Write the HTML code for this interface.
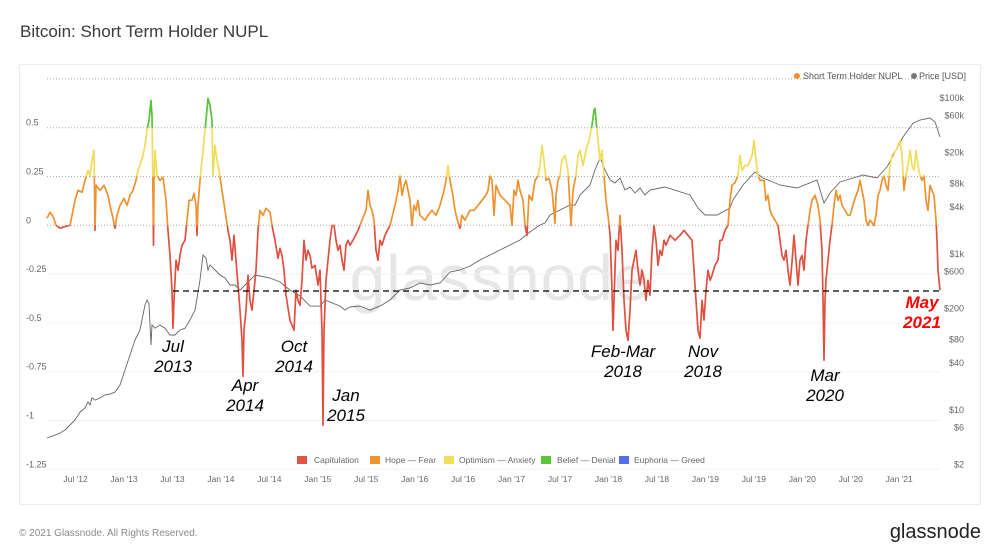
<!DOCTYPE html>
<html><head><meta charset="utf-8">
<style>
html,body{margin:0;padding:0;background:#fff;width:1000px;height:557px;overflow:hidden;font-family:"Liberation Sans",sans-serif}
svg text{font-family:"Liberation Sans",sans-serif}
</style></head>
<body>
<svg id="chart" width="1000" height="557" viewBox="0 0 1000 557" xmlns="http://www.w3.org/2000/svg">
<rect x="0" y="0" width="1000" height="557" fill="#fff"/>
<text x="20" y="37" font-size="17" fill="#3a3a3a">Bitcoin: Short Term Holder NUPL</text>
<rect x="19.5" y="64.5" width="961" height="440" fill="#fff" stroke="#ececec"/>
<text x="500" y="300" font-size="64" fill="#e6e6e6" text-anchor="middle" letter-spacing="1">glassnode</text>
<g id="grid"></g>
<g id="yaxis"></g>
<g id="y2axis"></g>
<g id="xaxis"></g>
<defs id="defs"></defs>
<g id="price"></g>
<g id="nupl"></g>
<line x1="173" y1="291" x2="940" y2="291" stroke="#000" stroke-width="1.2" stroke-dasharray="6,4"/>
<g font-size="17" font-style="italic" fill="#000" text-anchor="middle">
<text x="173" y="352"><tspan x="173">Jul</tspan><tspan x="173" dy="20">2013</tspan></text>
<text x="245" y="391"><tspan x="245">Apr</tspan><tspan x="245" dy="20">2014</tspan></text>
<text x="294" y="352"><tspan x="294">Oct</tspan><tspan x="294" dy="20">2014</tspan></text>
<text x="346" y="401"><tspan x="346">Jan</tspan><tspan x="346" dy="20">2015</tspan></text>
<text x="623" y="357"><tspan x="623">Feb-Mar</tspan><tspan x="623" dy="20">2018</tspan></text>
<text x="703" y="357"><tspan x="703">Nov</tspan><tspan x="703" dy="20">2018</tspan></text>
<text x="825" y="381"><tspan x="825">Mar</tspan><tspan x="825" dy="20">2020</tspan></text>
<text x="922" y="308" fill="#f00" font-weight="bold"><tspan x="922">May</tspan><tspan x="922" dy="20">2021</tspan></text>
</g>
<g font-size="9" fill="#555">
<circle cx="797" cy="76" r="3" fill="#f0922e"/>
<text x="803" y="79">Short Term Holder NUPL</text>
<circle cx="914" cy="76" r="3" fill="#777"/>
<text x="919" y="79">Price [USD]</text>
</g>
<g font-size="8.5" fill="#666">
<rect x="297" y="456" width="10" height="8" fill="#e05545"/>
<text x="314" y="463">Capitulation</text>
<rect x="370" y="456" width="10" height="8" fill="#f0922e"/>
<text x="385" y="463">Hope — Fear</text>
<rect x="444" y="456" width="10" height="8" fill="#f2df5c"/>
<text x="459" y="463">Optimism — Anxiety</text>
<rect x="541" y="456" width="10" height="8" fill="#5cc63a"/>
<text x="557" y="463">Belief — Denial</text>
<rect x="619" y="456" width="10" height="8" fill="#4f6ef0"/>
<text x="634" y="463">Euphoria — Greed</text>
</g>
<text x="19" y="536" font-size="10" fill="#8a8a8a">© 2021 Glassnode. All Rights Reserved.</text>
<text x="981" y="538" font-size="20" fill="#222" text-anchor="end">glassnode</text>
</svg>
<script>
const nuplDates=[2012.205,2012.236,2012.267,2012.298,2012.340,2012.401,2012.443,2012.463,2012.494,2012.525,2012.567,2012.598,2012.628,2012.649,2012.670,2012.690,2012.701,2012.711,2012.752,2012.794,2012.835,2012.856,2012.886,2012.907,2012.928,2012.959,2013.000,2013.031,2013.062,2013.093,2013.124,2013.144,2013.165,2013.196,2013.217,2013.237,2013.258,2013.268,2013.279,2013.289,2013.299,2013.304,2013.310,2013.320,2013.341,2013.372,2013.402,2013.433,2013.454,2013.475,2013.495,2013.506,2013.516,2013.537,2013.557,2013.578,2013.599,2013.630,2013.650,2013.671,2013.702,2013.722,2013.743,2013.753,2013.764,2013.784,2013.805,2013.826,2013.846,2013.867,2013.888,2013.908,2013.918,2013.939,2013.960,2013.980,2014.011,2014.042,2014.073,2014.094,2014.115,2014.135,2014.156,2014.176,2014.197,2014.218,2014.228,2014.238,2014.259,2014.280,2014.300,2014.321,2014.342,2014.362,2014.383,2014.404,2014.434,2014.465,2014.507,2014.527,2014.558,2014.589,2014.610,2014.631,2014.651,2014.672,2014.713,2014.754,2014.775,2014.796,2014.816,2014.837,2014.858,2014.878,2014.899,2014.920,2014.940,2014.971,2015.002,2015.023,2015.043,2015.054,2015.064,2015.085,2015.105,2015.126,2015.147,2015.167,2015.188,2015.208,2015.229,2015.250,2015.270,2015.291,2015.312,2015.332,2015.374,2015.415,2015.456,2015.497,2015.518,2015.539,2015.559,2015.580,2015.601,2015.621,2015.642,2015.663,2015.694,2015.745,2015.797,2015.828,2015.848,2015.869,2015.890,2015.910,2015.931,2015.952,2015.972,2015.993,2016.013,2016.034,2016.055,2016.106,2016.137,2016.179,2016.220,2016.261,2016.302,2016.323,2016.344,2016.364,2016.385,2016.416,2016.447,2016.468,2016.488,2016.519,2016.571,2016.612,2016.653,2016.695,2016.736,2016.756,2016.777,2016.798,2016.818,2016.839,2016.880,2016.932,2016.984,2017.004,2017.025,2017.045,2017.066,2017.087,2017.118,2017.138,2017.159,2017.180,2017.211,2017.242,2017.272,2017.293,2017.314,2017.334,2017.355,2017.386,2017.417,2017.448,2017.458,2017.479,2017.500,2017.520,2017.551,2017.582,2017.613,2017.634,2017.665,2017.685,2017.706,2017.737,2017.768,2017.799,2017.830,2017.850,2017.861,2017.881,2017.892,2017.912,2017.933,2017.954,2017.974,2017.995,2018.016,2018.036,2018.046,2018.057,2018.077,2018.098,2018.119,2018.139,2018.160,2018.181,2018.201,2018.222,2018.243,2018.263,2018.284,2018.304,2018.325,2018.346,2018.366,2018.387,2018.408,2018.428,2018.449,2018.470,2018.490,2018.511,2018.532,2018.552,2018.573,2018.593,2018.635,2018.686,2018.738,2018.779,2018.820,2018.862,2018.882,2018.903,2018.924,2018.944,2018.965,2018.986,2019.006,2019.027,2019.048,2019.068,2019.099,2019.130,2019.151,2019.171,2019.202,2019.233,2019.254,2019.275,2019.306,2019.336,2019.357,2019.378,2019.409,2019.440,2019.481,2019.502,2019.522,2019.543,2019.564,2019.605,2019.625,2019.646,2019.667,2019.687,2019.718,2019.749,2019.770,2019.791,2019.811,2019.832,2019.852,2019.873,2019.894,2019.914,2019.935,2019.956,2019.976,2019.997,2020.018,2020.038,2020.059,2020.080,2020.100,2020.131,2020.162,2020.183,2020.203,2020.214,2020.224,2020.234,2020.245,2020.265,2020.286,2020.307,2020.327,2020.348,2020.368,2020.389,2020.410,2020.441,2020.472,2020.492,2020.544,2020.575,2020.596,2020.616,2020.637,2020.657,2020.678,2020.699,2020.740,2020.761,2020.781,2020.802,2020.823,2020.843,2020.864,2020.884,2020.905,2020.926,2020.967,2021.008,2021.029,2021.050,2021.070,2021.091,2021.112,2021.132,2021.153,2021.174,2021.194,2021.215,2021.235,2021.256,2021.277,2021.297,2021.318,2021.339,2021.359,2021.380,2021.390,2021.400,2021.421];
const nuplValues=[.036,.067,.046,0,-.015,-.005,0,.051,.128,.179,.169,.230,.282,.251,.333,.384,-.026,.205,.179,.205,.154,.102,.036,-.015,.051,.102,.138,.102,.154,.179,.230,.282,.307,.358,.410,.486,.538,.589,.640,.563,.128,-.102,.230,.384,.256,.230,.246,.128,-.026,-.154,-.333,-.527,-.384,-.179,-.230,-.154,-.102,-.077,.026,.128,.128,.164,.102,-.051,.102,.230,.333,.435,.538,.650,.614,.538,.256,.410,.333,.282,.179,.077,-.026,-.077,-.179,-.051,-.179,-.307,-.435,-.589,-.773,-.538,-.435,-.256,-.384,-.435,-.333,-.230,-.026,.077,.051,.087,.067,0,-.077,-.169,-.118,-.154,-.230,-.358,-.486,-.538,-.333,-.384,-.410,-.282,-.077,-.179,-.128,-.154,-.220,-.205,-.307,-.230,-.538,-1.024,-.538,-.282,-.179,-.077,0,0,-.077,-.128,-.102,-.179,-.230,-.102,-.077,-.102,-.067,-.026,.026,.077,.179,.102,.077,.026,-.128,-.179,-.077,-.102,-.051,0,.102,.179,.256,.154,.205,.230,.179,.128,0,.102,.077,.128,.051,.026,.051,.077,.051,.102,.179,.230,.307,.230,.179,.077,.015,-.015,.051,.026,.077,.077,.102,.128,.154,.179,.256,.230,.051,.205,.154,.128,.102,0,.179,.154,.230,.179,.128,0,-.051,.154,.128,.230,.251,.307,.410,.333,.230,.241,.179,.010,.154,.230,.256,.333,.358,.282,0,.179,.256,.358,.384,.307,.384,.435,.512,.589,.599,.486,.435,.333,.384,.256,.128,.051,-.051,-.333,-.538,-.384,-.077,-.128,.051,-.128,-.384,-.538,-.589,-.435,-.230,-.179,-.128,-.230,-.307,-.230,-.282,-.384,-.282,-.358,-.128,0,-.077,-.205,-.128,-.154,-.077,-.102,-.051,-.077,-.051,-.026,-.051,-.077,-.230,-.384,-.538,-.579,-.384,-.486,-.333,-.230,-.282,-.256,-.205,-.179,-.077,-.077,-.026,0,.128,.205,.220,.256,.358,.282,.307,.307,.358,.435,.333,.256,.230,.230,.128,.154,.077,.051,.026,0,-.077,-.154,-.179,-.128,-.230,-.307,-.189,-.051,-.179,-.307,-.179,-.154,-.230,-.077,0,.077,.128,.154,.102,.026,-.128,-.384,-.691,-.384,-.282,-.179,-.077,0,.102,.179,.128,.154,.102,.077,.051,.051,.138,.179,.230,.179,.128,.026,0,.026,0,.051,.154,.179,.230,.256,.205,.179,.307,.358,.384,.435,.358,.179,.256,.307,.384,.307,.282,.384,.307,.256,.230,.256,.128,.077,.205,.179,.154,.026,-.077,-.230,-.333];
const priceDates=[2012.205,2012.288,2012.340,2012.391,2012.443,2012.494,2012.546,2012.598,2012.628,2012.649,2012.670,2012.701,2012.752,2012.804,2012.856,2012.907,2012.959,2013.010,2013.062,2013.114,2013.165,2013.186,2013.217,2013.237,2013.258,2013.279,2013.289,2013.320,2013.372,2013.423,2013.475,2013.526,2013.578,2013.630,2013.681,2013.733,2013.784,2013.815,2013.846,2013.867,2013.888,2013.939,2013.991,2014.042,2014.094,2014.145,2014.197,2014.249,2014.300,2014.352,2014.404,2014.507,2014.610,2014.713,2014.816,2014.920,2015.023,2015.074,2015.126,2015.229,2015.281,2015.332,2015.436,2015.539,2015.642,2015.745,2015.848,2015.952,2016.055,2016.158,2016.261,2016.364,2016.468,2016.571,2016.674,2016.777,2016.880,2016.984,2017.087,2017.190,2017.293,2017.345,2017.396,2017.500,2017.603,2017.655,2017.706,2017.809,2017.861,2017.912,2017.933,2017.964,2018.016,2018.067,2018.119,2018.170,2018.222,2018.273,2018.325,2018.376,2018.428,2018.582,2018.841,2018.924,2018.996,2019.120,2019.254,2019.285,2019.388,2019.512,2019.595,2019.770,2019.946,2020.152,2020.224,2020.286,2020.389,2020.626,2020.771,2020.874,2021.039,2021.142,2021.215,2021.318,2021.370,2021.421];
const priceValues=[4.38,4.77,5.07,5.54,6.42,7.44,9.4,10.6,12.7,11.6,14.3,13.4,14.3,15.6,16.0,17.0,20.9,32.6,50.7,78.9,106,143,222,257,230,68,123,112,123,112,91.5,91.5,106,112,143,191,464,971,889,624,723,624,538,492,401,401,345,401,464,538,522,492,438,345,290,215,215,257,242,215,191,209,215,191,215,257,345,366,425,401,425,588,624,702,837,971,1125,1304,1510,1914,2355,2497,3162,3665,4246,4246,5702,7670,11940,17010,15110,11940,8890,8130,9420,6620,7230,6050,7020,5702,6620,7230,5702,3890,3162,3162,3890,4920,7670,11250,9420,7670,7020,8890,4510,6050,8370,10300,9420,13100,31620,47500,52240,55460,49200,31620];
const nuplTicks=[0.75,0.5,0.25,0,-0.25,-0.5,-0.75,-1,-1.25];
const nuplTickLabels=["","0.5","0.25","0","-0.25","-0.5","-0.75","-1","-1.25"];
const priceTicks=[100000,60000,20000,8000,4000,1000,600,200,80,40,10,6,2];
const priceTickLabels=["$100k","$60k","$20k","$8k","$4k","$1k","$600","$200","$80","$40","$10","$6","$2"];
const xTicks=[2012.5,2013,2013.5,2014,2014.5,2015,2015.5,2016,2016.5,2017,2017.5,2018,2018.5,2019,2019.5,2020,2020.5,2021];
const xTickLabels=["Jul '12","Jan '13","Jul '13","Jan '14","Jul '14","Jan '15","Jul '15","Jan '16","Jul '16","Jan '17","Jul '17","Jan '18","Jul '18","Jan '19","Jul '19","Jan '20","Jul '20","Jan '21"];
const bands=[[-2,0,"#df5040"],[0,0.25,"#ee9230"],[0.25,0.5,"#f0dc58"],[0.5,0.75,"#56c23a"],[0.75,2,"#4f6ef0"]];

const NS="http://www.w3.org/2000/svg";
const PL=47,PR=940;
function xs(yr){return 124+(yr-2013)*96.9;}
function ys(v){return 225.3-v*195.2;}
function yp(p){return 410-(Math.log10(p)-1)*78;}
function mk(tag,attrs,parent){const e=document.createElementNS(NS,tag);for(const k in attrs)e.setAttribute(k,attrs[k]);parent.appendChild(e);return e;}

const grid=document.getElementById('grid'),ya=document.getElementById('yaxis'),y2=document.getElementById('y2axis'),xa=document.getElementById('xaxis');
nuplTicks.forEach((t,i)=>{
  const y=ys(t);
  const ln=mk('line',{x1:PL,x2:PR,y1:y,y2:y,stroke:t>=0?'#aaa':'#f0f0f0','stroke-width':1,'stroke-dasharray':t>=0?'1,2':'none'},grid);
  
  
  if(nuplTickLabels[i]){
    const tx=mk('text',{x:26,y:y-2,'font-size':9,fill:'#666'},ya);
    tx.textContent=nuplTickLabels[i];
    
    
  }
});
priceTicks.forEach((p,i)=>{
  const tx=mk('text',{x:964,y:yp(p)+3,'font-size':9,fill:'#666','text-anchor':'end'},y2);
  tx.textContent=priceTickLabels[i];
  
  
});
xTicks.forEach((t,i)=>{
  const tx=mk('text',{x:xs(t),y:482,'font-size':8.5,fill:'#666','text-anchor':'middle'},xa);
  tx.textContent=xTickLabels[i];
  
  
});

let pd='';
priceDates.forEach((d,i)=>{pd+=(i?'L':'M')+xs(d).toFixed(1)+','+yp(priceValues[i]).toFixed(1);});
const pp=mk('path',{d:pd,fill:'none',stroke:'#666','stroke-width':0.9},document.getElementById('price'));



let nd='';
nuplDates.forEach((d,i)=>{nd+=(i?'L':'M')+xs(d).toFixed(1)+','+ys(nuplValues[i]).toFixed(1);});
const defs=document.getElementById('defs'),ng=document.getElementById('nupl');
bands.forEach((b,i)=>{
  const cp=mk('clipPath',{id:'band'+i},defs);
  const top=ys(b[1]),bot=ys(b[0]);
  mk('rect',{x:0,y:top,width:1000,height:bot-top},cp);
  const p=mk('path',{d:nd,fill:'none',stroke:b[2],'stroke-width':1.7,'stroke-linejoin':'round','clip-path':'url(#band'+i+')'},ng);
  
  
});
</script>
</body></html>
